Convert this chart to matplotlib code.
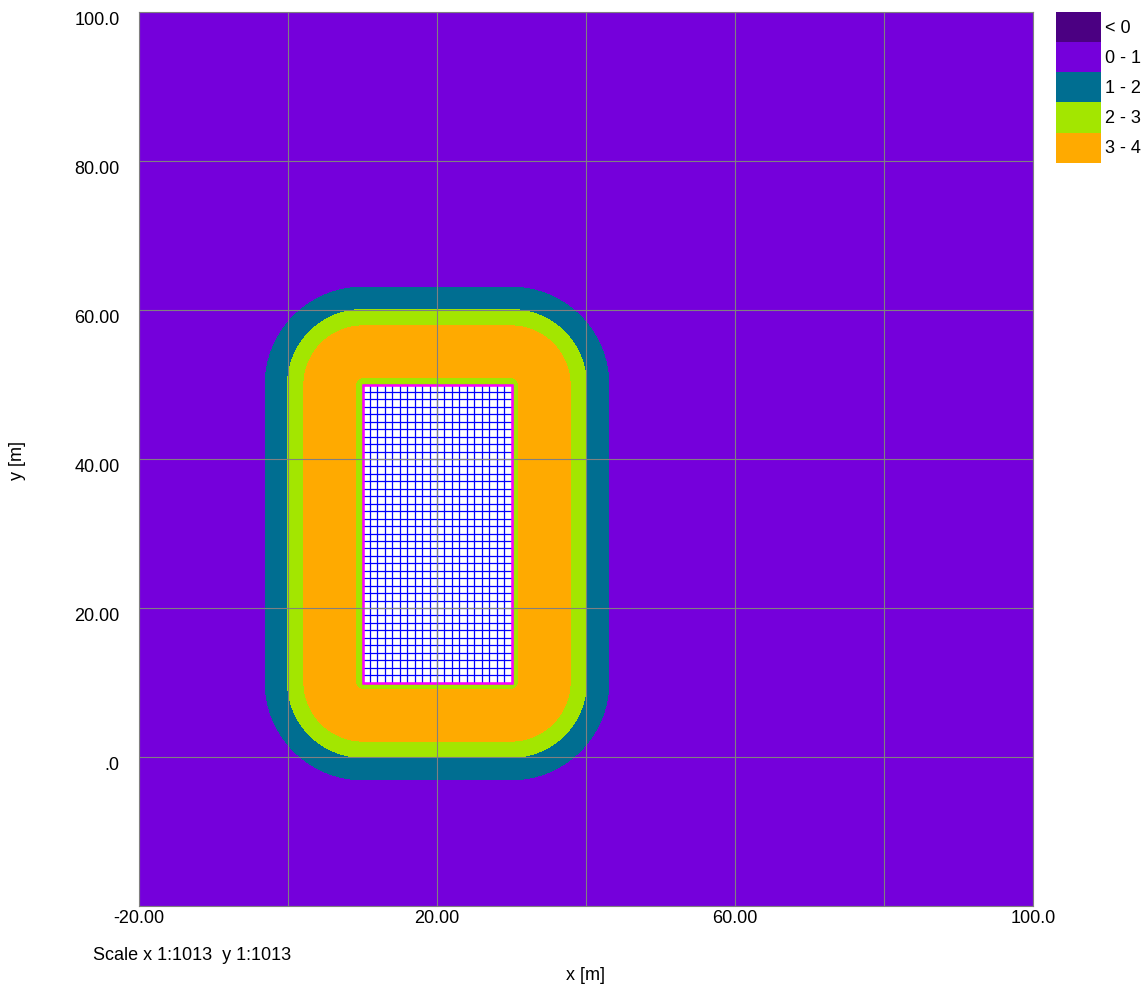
import numpy as np
import matplotlib
matplotlib.use("Agg")
import matplotlib.pyplot as plt
from matplotlib.patches import Rectangle, Patch

plt.rcParams['font.family'] = ['Liberation Sans', 'DejaVu Sans']

# Legend classes and colours
class_labels = ["< 0", "0 - 1", "1 - 2", "2 - 3", "3 - 4"]
class_colors = ["#4B0082", "#7500DB", "#006E91", "#A3E600", "#FFAA00"]

# Source area (rectangle, m)
src_x = [10.0, 30.0]
src_y = [10.0, 50.0]
mesh_step = 1.0

# Bands: outer distance from the source edge (m) and the class of each band
band_dist = [0.9, 8.0, 10.2, 13.2]
band_class = ["2 - 3", "3 - 4", "2 - 3", "1 - 2", "0 - 1"]

# Axes
x_range = [-20.0, 100.0]
y_range = [-20.0, 100.0]
grid_vals = [-20, 0, 20, 40, 60, 80, 100]
x_ticklabels = ["-20.00", "", "20.00", "", "60.00", "", "100.0"]
y_ticklabels = ["", ".0", "20.00", "40.00", "60.00", "80.00", "100.0"]
scale_text = "Scale x 1:1013  y 1:1013"

# Distance field around the source rectangle
gx = np.arange(x_range[0], x_range[1] + 0.05, 0.1)
gy = np.arange(y_range[0], y_range[1] + 0.05, 0.1)
X, Y = np.meshgrid(gx, gy)
dx = np.maximum(np.maximum(src_x[0] - X, 0), X - src_x[1])
dy = np.maximum(np.maximum(src_y[0] - Y, 0), Y - src_y[1])
D = np.hypot(dx, dy)

color_of = dict(zip(class_labels, class_colors))
levels = [-1.0] + band_dist + [D.max() + 1]
fill_colors = [color_of[c] for c in band_class]

fig = plt.figure(figsize=(11.48, 9.90), dpi=100)
ax = fig.add_axes([139 / 1148, 84 / 990, 894 / 1148, 894 / 990])

ax.contourf(X, Y, D, levels=levels, colors=fill_colors, zorder=0.5)

# source area with calculation mesh
w = src_x[1] - src_x[0]
h = src_y[1] - src_y[0]
ax.add_patch(Rectangle((src_x[0], src_y[0]), w, h, facecolor="white",
                       edgecolor="none", zorder=1))
mx = np.arange(src_x[0], src_x[1] + mesh_step / 2, mesh_step)
my = np.arange(src_y[0], src_y[1] + mesh_step / 2, mesh_step)
ax.vlines(mx, src_y[0], src_y[1], colors="#0000FF", linewidth=0.9, zorder=1.5)
ax.hlines(my, src_x[0], src_x[1], colors="#0000FF", linewidth=0.9, zorder=1.5)
ax.add_patch(Rectangle((src_x[0], src_y[0]), w, h, facecolor="none",
                       edgecolor="#FF00FF", linewidth=1.8, zorder=2))

ax.set_xlim(x_range)
ax.set_ylim(y_range)
ax.set_xticks(grid_vals)
ax.set_xticklabels(x_ticklabels)
ax.set_yticks(grid_vals)
ax.set_yticklabels(y_ticklabels)
for lab in ax.get_yticklabels():
    lab.set_va("top")
    lab.set_y(lab.get_position()[1])
ax.tick_params(axis="both", length=0, labelsize=13, colors="black")
ax.tick_params(axis="x", pad=3)
ax.tick_params(axis="y", pad=14)
ax.set_axisbelow(False)
ax.grid(True, color="#808080", linewidth=0.8)
for sp in ax.spines.values():
    sp.set_color("#808080")
    sp.set_linewidth(0.8)

fig.text(586 / 1148, 1 - 975 / 990, "x [m]", ha="center", va="center", fontsize=13)
fig.text(18 / 1148, 1 - 460 / 990, "y [m]", ha="center", va="center",
         rotation=90, fontsize=13)
fig.text(93 / 1148, 1 - 956 / 990, scale_text, ha="left", va="center", fontsize=13)

handles = [Patch(facecolor=c, edgecolor="none") for c in class_colors]
fig.legend(handles, class_labels, loc="upper left",
           bbox_to_anchor=(1056 / 1148, 1 - 12 / 990), frameon=False,
           fontsize=13, handlelength=2.5, handleheight=2.19,
           labelspacing=0.0, handletextpad=0.2, borderpad=0, borderaxespad=0)

fig.savefig("out.png", dpi=100)
